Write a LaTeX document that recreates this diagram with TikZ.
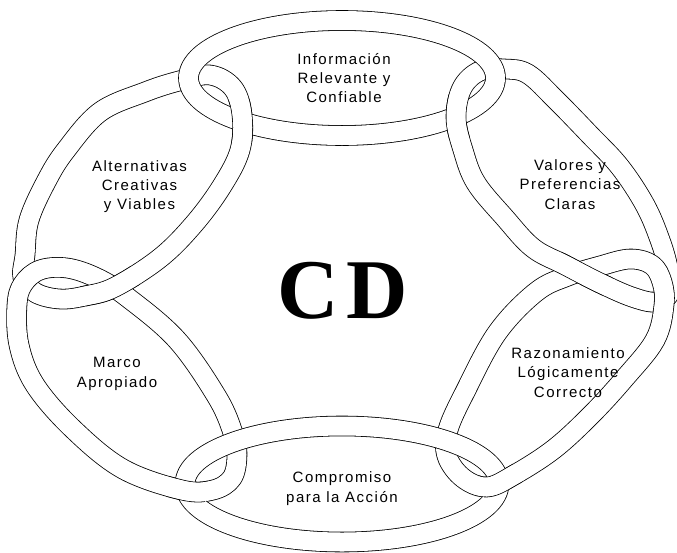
\documentclass[tikz,border=0pt]{standalone}
\usepackage{fontspec}
\setmainfont{Liberation Sans}
\newfontfamily\cdfont{Liberation Serif}
\tikzset{
  chainband/.style={draw=black, line width=0.8pt, double=white, double distance=19pt, line join=round},
  bandfill/.style={draw=white, line width=18.4pt, line join=round},
  lbl/.style={align=center, inner sep=0pt, font=\fontsize{15}{19.3}\selectfont\addfontfeature{LetterSpace=10}},
  bigcd/.style={anchor=base, inner sep=0pt, font=\cdfont\bfseries\fontsize{85}{85}\selectfont}
}
\newcommand\ringT[1]{\draw[#1] (342,78) ellipse [x radius=153.5pt, y radius=57.5pt];}
\newcommand\ringB[1]{\draw[#1] (342,484) ellipse [x radius=157pt, y radius=58pt];}
\newcommand\ringA[1]{\draw[#1] plot[smooth cycle, tension=0.6] coordinates {(179,81) (210,75) (233,88) (242,115) (240,150) (222,186) (194,224) (160,258) (115,287) (85,296) (60,299) (36,293) (23,278) (25,255) (29,220) (47,180) (66,150) (100,112) (145,92)};}
\newcommand\ringV[1]{\draw[#1] plot[smooth cycle, tension=0.6] coordinates {(480,71) (505,69) (528,74) (556,100) (590,135) (620,167) (645,205) (660,240) (668,268) (670,292) (656,302) (632,297) (600,283) (565,265) (533,248) (505,218) (476,183) (463,150) (456,118) (462,88)};}
\newcommand\ringM[1]{\draw[#1] plot[smooth cycle, tension=0.6] coordinates {(17,305) (19,345) (35,385) (73,429) (123,469) (182,490) (213,490) (232,478) (237,455) (233,433) (217,397) (177,340) (127,297) (97,278) (67,268) (40,270) (23,284)};}
\newcommand\ringR[1]{\draw[#1] plot[smooth cycle, tension=0.6] coordinates {(600,266) (630,259) (652,265) (662,282) (664,305) (655,340) (624,379) (591,415) (554,449) (514,475) (487,487) (463,478) (447,456) (448,430) (465,392) (497,333) (536,292) (568,276)};}
% put link #1 on top inside a circle at (#2,#3) of radius #4
\newcommand\overlap[4]{%
  \begin{scope}\clip (#2,#3) circle (#4pt); #1{chainband} \end{scope}%
  \begin{scope}\clip (#2,#3) circle (#4pt+2.5pt); #1{bandfill} \end{scope}}
\begin{document}
\begin{tikzpicture}[x=1pt,y=-1pt]
\useasboundingbox (0,0) rectangle (677,552);
% base links
\ringA{chainband} \ringV{chainband} \ringM{chainband} \ringR{chainband} \ringT{chainband} \ringB{chainband}
% crossings where the earlier link lies on top
\overlap{\ringA}{241}{121}{24}
\overlap{\ringV}{456}{117}{24}
\overlap{\ringA}{110}{288}{30}
\overlap{\ringV}{583}{273}{30}
\overlap{\ringM}{187}{489}{22}
\overlap{\ringR}{500}{482}{22}
% labels
\node[lbl] (info) at (344,78) {Información\\Relevante y\\Confiable};
\node[lbl] (alt) at (139.5,186.5) {Alternativas\\Creativas\\y Viables};
\node[lbl] (val) at (570,184.5) {Valores y\\Preferencias\\Claras};
\node[lbl] (marco) at (117,374) {Marco\\Apropiado};
\node[lbl] (raz) at (568,372.5) {Razonamiento\\Lógicamente\\Correcto};
\node[lbl] (comp) at (342,488.5) {Compromiso\\para la Acción};
\node[bigcd] (cd) at (343,318) {C\kern8pt D};
\end{tikzpicture}
\end{document}
